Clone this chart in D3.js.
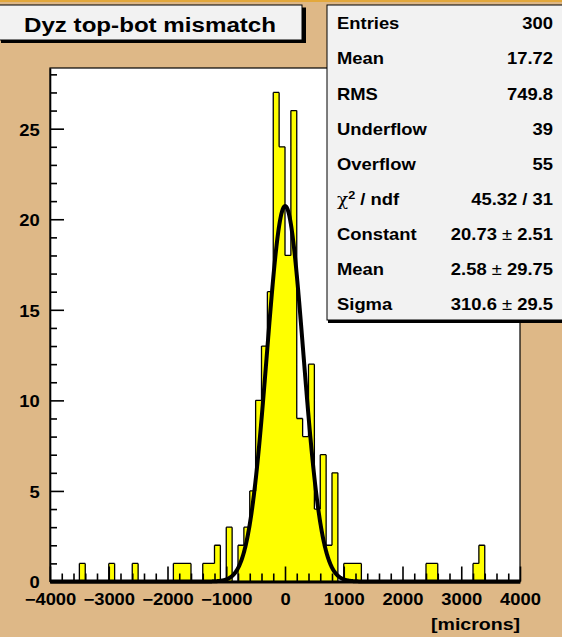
<!DOCTYPE html>
<html>
<head>
<meta charset="utf-8">
<script src="https://cdn.jsdelivr.net/npm/d3@7"></script>
<style>
  html, body { margin: 0; padding: 0; background: #deb887; }
  svg { display: block; }
  text { font-family: "Liberation Sans", Arial, Helvetica, sans-serif; font-weight: bold; fill: #000; }
</style>
</head>
<body>
<script>
// Histogram: 80 bins of 100 microns from -4000 to 4000
const binLow = -4000;
const binWidth = 100;
const counts = [
  0, 0, 0, 0, 0, 1, 0, 0, 0, 0,      // -4000 .. -3000
  1, 0, 0, 0, 1, 0, 0, 0, 0, 0,      // -3000 .. -2000
  0, 1, 1, 1, 0, 0, 1, 1, 2, 0,      // -2000 .. -1000
  3, 0, 2, 3, 5, 10, 13, 16, 27, 24, // -1000 .. 0
  18, 26, 9, 8, 12, 4, 7, 2, 6, 0,   // 0 .. 1000
  1, 1, 1, 0, 0, 0, 0, 0, 0, 0,      // 1000 .. 2000
  0, 0, 0, 0, 1, 1, 0, 0, 0, 0,      // 2000 .. 3000
  0, 0, 1, 2, 0, 0, 0, 0, 0, 0       // 3000 .. 4000
];

// Gaussian fit result
const fitConstant = 20.73;
const fitMean = 2.58;
const fitSigma = 310.6;

// Axis ticks
const xTicks = [-4000, -3000, -2000, -1000, 0, 1000, 2000, 3000, 4000];
const yTicks = [0, 5, 10, 15, 20, 25];

// Title and statistics box
const titleText = "Dyz top-bot mismatch";
const xAxisTitle = "[microns]";
const statsLabels = ["Entries", "Mean", "RMS", "Underflow", "Overflow", "χ2 / ndf", "Constant", "Mean", "Sigma"];
const statsValues = ["300", "17.72", "749.8", "39", "55", "45.32 / 31", "20.73 ± 2.51", "2.58 ± 29.75", "310.6 ± 29.5"];

const W = 562, H = 637;
const SX = 1.15; // horizontal stretch of the lettering
const frame = { left: 50, right: 520, top: 68, bottom: 581.5 };

const svg = d3.select("body").append("svg").attr("width", W).attr("height", H);

// canvas
svg.append("rect").attr("width", W).attr("height", H).attr("fill", "#deb887");
svg.append("rect").attr("x", 0).attr("y", 0).attr("width", W).attr("height", 2).attr("fill", "#e3a83c");

const xDomain = [binLow, binLow + binWidth * counts.length];
const x = d3.scaleLinear().domain(xDomain).range([frame.left, frame.right]);
const y = d3.scaleLinear().domain([0, d3.max(counts) * 1.05]).range([frame.bottom, frame.top]);

// plot frame
svg.append("rect")
  .attr("x", frame.left).attr("y", frame.top)
  .attr("width", frame.right - frame.left).attr("height", frame.bottom - frame.top)
  .attr("fill", "#fff");

// histogram outline as a step path
const bins = counts.map((c, i) => ({ x0: binLow + i * binWidth, x1: binLow + (i + 1) * binWidth, c }));
let d = `M${x(bins[0].x0)},${y(0)}`;
bins.forEach(b => { d += `L${x(b.x0)},${y(b.c)}L${x(b.x1)},${y(b.c)}`; });
d += `L${x(bins[bins.length - 1].x1)},${y(0)}Z`;
svg.append("path").attr("d", d).attr("fill", "#ffff00").attr("stroke", "none");

// bar edges: tops and verticals between neighbouring bins
let e = "";
bins.forEach((b, i) => {
  const prev = i > 0 ? bins[i - 1].c : 0;
  if (b.c > 0 || prev > 0) e += `M${x(b.x0)},${y(prev)}L${x(b.x0)},${y(b.c)}`;
  if (b.c > 0) e += `M${x(b.x0)},${y(b.c)}L${x(b.x1)},${y(b.c)}`;
});
const last = bins[bins.length - 1];
if (last.c > 0) e += `M${x(last.x1)},${y(last.c)}L${x(last.x1)},${y(0)}`;
svg.append("path").attr("d", e).attr("fill", "none").attr("stroke", "#000")
  .attr("stroke-width", 1.3).attr("stroke-linejoin", "miter");

// fitted gaussian
const gauss = v => fitConstant * Math.exp(-0.5 * Math.pow((v - fitMean) / fitSigma, 2));
const curvePts = d3.range(xDomain[0], xDomain[1] + 1, 5).map(v => [v, gauss(v)]);
svg.append("path")
  .attr("d", d3.line().x(p => x(p[0])).y(p => y(p[1]))(curvePts))
  .attr("fill", "none").attr("stroke", "#000").attr("stroke-width", 4).attr("stroke-linejoin", "round");

// frame border
svg.append("rect")
  .attr("x", frame.left).attr("y", frame.top)
  .attr("width", frame.right - frame.left).attr("height", frame.bottom - frame.top)
  .attr("fill", "none").attr("stroke", "#000").attr("stroke-width", 1.2);

// x axis: major and minor ticks pointing into the frame
const xMinor = d3.range(xDomain[0], xDomain[1] + 1, 200).filter(v => !xTicks.includes(v));
const gx = svg.append("g").attr("transform", `translate(0,${frame.bottom})`);
gx.call(d3.axisBottom(x).tickValues(xMinor).tickSize(-8).tickFormat(""));
gx.call(g => g.select(".domain").remove());
const gxMajor = svg.append("g").attr("transform", `translate(0,${frame.bottom})`)
  .call(d3.axisBottom(x).tickValues(xTicks).tickSizeInner(-15).tickSizeOuter(0).tickFormat(d3.format("d")));
gxMajor.selectAll("text").attr("y", 23.5).attr("dy", 0)
  .attr("transform", `scale(${SX},1)`).style("font-size", "16px").style("font-family", null).attr("font-family", null);
[gx, gxMajor].forEach(g => g.selectAll("line").attr("stroke", "#000").attr("stroke-width", 1.6));
gxMajor.select(".domain").attr("stroke", "#000").attr("stroke-width", 3);

// y axis
const yMinor = d3.range(0, 29, 1).filter(v => !yTicks.includes(v) && y(v) >= frame.top);
const gy = svg.append("g").attr("transform", `translate(${frame.left},0)`)
  .call(d3.axisLeft(y).tickValues(yMinor).tickSize(-7).tickFormat(""));
gy.select(".domain").remove();
const gyMajor = svg.append("g").attr("transform", `translate(${frame.left},0)`)
  .call(d3.axisLeft(y).tickValues(yTicks).tickSizeInner(-14).tickSizeOuter(0));
gyMajor.selectAll("text").attr("x", -9).attr("dy", "0.4em")
  .attr("transform", `scale(${SX},1)`).style("font-size", "16px");
[gy, gyMajor].forEach(g => g.selectAll("line").attr("stroke", "#000").attr("stroke-width", 1.6));
gyMajor.select(".domain").attr("stroke", "#000").attr("stroke-width", 1.6);
svg.selectAll(".tick text").attr("font-family", null);

// x axis title
svg.append("text").attr("transform", `translate(${frame.right},630) scale(${SX},1)`)
  .attr("text-anchor", "end").style("font-size", "17px").text(xAxisTitle);

// title box
svg.append("rect").attr("x", 1).attr("y", 7.5).attr("width", 305).attr("height", 35.5).attr("fill", "#000");
svg.append("rect").attr("x", -2).attr("y", 5).attr("width", 304).attr("height", 35)
  .attr("fill", "#f2f2f2").attr("stroke", "#000").attr("stroke-width", 1);
svg.append("text").attr("transform", `translate(150,31.5) scale(${SX},1)`)
  .attr("text-anchor", "middle").style("font-size", "21px").text(titleText);

// statistics box
const sb = { x: 327, y: 5, w: 245, h: 315 };
svg.append("rect").attr("x", sb.x + 1).attr("y", sb.y + 3).attr("width", sb.w).attr("height", sb.h).attr("fill", "#000");
svg.append("rect").attr("x", sb.x).attr("y", sb.y).attr("width", sb.w).attr("height", sb.h)
  .attr("fill", "#f2f2f2").attr("stroke", "#000").attr("stroke-width", 1);

const rowY = i => 29.3 + i * 35.1;
statsLabels.forEach((lab, i) => {
  const t = svg.append("text").attr("transform", `translate(337,${rowY(i)}) scale(${SX},1)`)
    .style("font-size", "16px");
  if (lab.startsWith("χ2")) {
    t.append("tspan").style("font-weight", "normal").style("font-family", "'DejaVu Serif', serif").text("χ");
    t.append("tspan").attr("dy", -6).style("font-size", "11px").text("2");
    t.append("tspan").attr("dy", 6).text(" / ndf");
  } else {
    t.text(lab);
  }
});
statsValues.forEach((val, i) => {
  const t = svg.append("text").attr("transform", `translate(553,${rowY(i)}) scale(${SX},1)`)
    .attr("text-anchor", "end").style("font-size", "16px");
  const parts = val.split("±");
  if (parts.length === 2) {
    t.append("tspan").text(parts[0]);
    t.append("tspan").style("font-weight", "normal").text("±");
    t.append("tspan").text(parts[1]);
  } else {
    t.text(val);
  }
});
</script>
</body>
</html>
